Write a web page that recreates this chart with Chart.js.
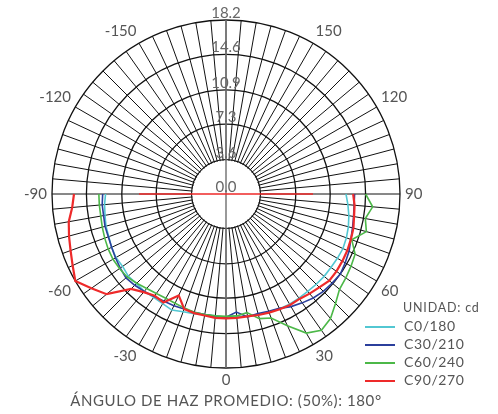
<!DOCTYPE html>
<html>
<head>
<meta charset="utf-8">
<script src="https://cdn.jsdelivr.net/npm/chart.js@4.4.1/dist/chart.umd.min.js"></script>
<style>
  html, body { margin: 0; padding: 0; background: #fff; }
  #wrap { position: relative; width: 498px; height: 414px; font-family: Lato, "Open Sans", sans-serif; color: #555; }
  #wrap canvas { position: absolute; left: 0; top: 0; }
  #unit { position: absolute; left: 403px; top: 300px; font-size: 12.5px; letter-spacing: 0.8px; }
  .item { position: absolute; left: 365px; height: 18px; font-size: 14px; line-height: 18px; letter-spacing: 0.6px; }
  .item span { display: inline-block; width: 30px; height: 2px; vertical-align: middle; margin-right: 9px; }
  #caption { position: absolute; left: 0; top: 391px; width: 452px; text-align: center; font-size: 15px; letter-spacing: 0.6px; }
</style>
</head>
<body>
<div id="wrap">
  <canvas id="polar" width="498" height="414"></canvas>
  <div id="unit">UNIDAD: cd</div>
  <div id="caption">ÁNGULO DE HAZ PROMEDIO: (50%): 180°</div>
</div>
<script>
// full circle of angles, top (180) going clockwise
const angles = [180, 175, 170, 165, 160, 155, 150, 145, 140, 135, 130, 125, 120, 115, 110, 105, 100, 95,
  90, 85, 80, 75, 70, 65, 60, 55, 50, 45, 40, 35, 30, 25, 20, 15, 10, 5,
  0, -5, -10, -15, -20, -25, -30, -35, -40, -45, -50, -55, -60, -65, -70, -75, -80, -85,
  -90, -95, -100, -105, -110, -115, -120, -125, -130, -135, -140, -145, -150, -155, -160, -165, -170, -175];

// measured angles, -90 .. 90
const measuredAngles = [-90, -85, -80, -75, -70, -65, -60, -55, -50, -45, -40, -35, -30, -25, -20, -15, -10, -5,
  0, 5, 10, 15, 20, 25, 30, 35, 40, 45, 50, 55, 60, 65, 70, 75, 80, 85, 90];

const c0 = [12.6, 12.75, 12.85, 13.0, 13.05, 13.2, 13.3, 13.2, 13.35, 13.25, 13.3, 13.2, 13.25, 13.4, 13.1, 12.95, 12.8, 12.8,
  12.9, 12.9, 12.95, 13.05, 13.15, 13.25, 13.3, 13.3, 13.3, 13.35, 13.4, 13.4, 13.45, 13.5, 13.4, 13.25, 13.05, 12.8, 12.55];
const c30 = [12.9, 13.0, 13.0, 13.1, 13.1, 13.2, 13.35, 13.5, 13.65, 13.5, 13.3, 13.1, 12.95, 12.9, 12.8, 12.8, 12.8, 12.85,
  12.9, 12.4, 13.05, 12.95, 13.05, 13.2, 13.6, 13.9, 14.2, 14.4, 14.5, 14.6, 14.4, 14.2, 13.9, 13.7, 13.55, 13.45, 13.45];
const c60 = [13.3, 13.3, 13.3, 13.4, 13.5, 13.6, 13.65, 13.6, 13.5, 13.2, 12.9, 12.7, 12.6, 12.6, 12.7, 12.8, 12.8, 12.8,
  12.8, 12.8, 12.6, 13.5, 13.8, 15.2, 16.8, 17.4, 17.0, 16.2, 15.5, 15.3, 15.1, 14.9, 14.0, 15.2, 14.8, 15.4, 14.6];
const c90 = [15.9, 16.15, 16.7, 17.0, 17.3, 17.7, 18.2, 17.2, 16.3, 14.05, 13.4, 13.0, 13.1, 11.7, 12.8, 12.9, 12.9, 13.0,
  13.0, 13.0, 13.0, 13.1, 13.2, 13.3, 13.4, 13.4, 13.6, 13.8, 14.1, 14.1, 14.05, 14.0, 13.9, 13.8, 13.6, 13.5, 13.3];
// red segment crossing the centre along 90 / -90
const c90Cross = { '90': 9.1, '-90': 9.1 };

const seriesNames = ['C0/180', 'C30/210', 'C60/240', 'C90/270'];
const seriesValues = [c0, c30, c60, c90];
const seriesColors = ['#52c7d2', '#2b3f9c', '#4cb848', '#ee2a2a'];
const seriesWidths = [1.6, 1.6, 1.6, 2.2];

const ringTicks = [0, 3.6, 7.3, 10.9, 14.6, 18.2];
const fontFamily = 'Lato, "Open Sans", sans-serif';

function toCircle(values) {
  return angles.map(a => {
    const i = measuredAngles.indexOf(a);
    return i === -1 ? null : values[i];
  });
}

const datasets = seriesValues.map((vals, k) => ({
  label: seriesNames[k],
  data: toCircle(vals),
  borderColor: seriesColors[k],
  borderWidth: seriesWidths[k],
  fill: false,
  pointRadius: 0,
  spanGaps: false,
  order: 4 - k
}));
datasets.push({
  label: 'C90/270 eje',
  data: angles.map(a => (c90Cross[a] !== undefined ? c90Cross[a] : null)),
  borderColor: seriesColors[3],
  borderWidth: 1.6,
  fill: false,
  pointRadius: 0,
  spanGaps: true
});

// hole in the middle, grey vertical axis, ring values
const polarDecor = {
  id: 'polarDecor',
  beforeDatasetsDraw(chart) {
    const s = chart.scales.r;
    const ctx = chart.ctx;
    const cx = s.xCenter, cy = s.yCenter, R = s.drawingArea;
    const hole = s.getDistanceFromCenterForValue(ringTicks[1]);
    ctx.save();
    ctx.fillStyle = '#fff';
    ctx.beginPath();
    ctx.arc(cx, cy, hole - 0.8, 0, Math.PI * 2);
    ctx.fill();
    ctx.strokeStyle = '#777';
    ctx.lineWidth = 1.5;
    ctx.beginPath();
    ctx.moveTo(cx, cy - R);
    ctx.lineTo(cx, cy + R);
    ctx.stroke();
    ctx.font = '15px ' + fontFamily;
    ctx.fillStyle = '#666';
    ctx.textAlign = 'center';
    ctx.textBaseline = 'alphabetic';
    ringTicks.forEach(v => {
      const r = s.getDistanceFromCenterForValue(v);
      ctx.fillText(v.toFixed(1), cx, cy - r - 2);
    });
    ctx.restore();
  }
};

new Chart(document.getElementById('polar'), {
  type: 'radar',
  data: { labels: angles, datasets: datasets },
  options: {
    responsive: false,
    animation: false,
    layout: { padding: { top: 0, bottom: 26, left: 0, right: 46 } },
    elements: { line: { tension: 0 } },
    plugins: { legend: { display: false }, tooltip: { enabled: false } },
    scales: {
      r: {
        min: 0,
        max: 18.2,
        startAngle: 0,
        afterBuildTicks: s => { s.ticks = ringTicks.map(v => ({ value: v })); },
        ticks: { display: false },
        grid: { circular: true, color: '#111', lineWidth: 1.3 },
        angleLines: { color: '#111', lineWidth: 1 },
        pointLabels: {
          callback: v => (v % 30 === 0 && v !== 180 ? String(v) : ''),
          font: { family: fontFamily, size: 15, lineHeight: 1 },
          color: '#555',
          padding: 5
        }
      }
    }
  },
  plugins: [polarDecor]
});

// legend
const wrap = document.getElementById('wrap');
seriesNames.forEach((name, k) => {
  const row = document.createElement('div');
  row.className = 'item';
  row.style.top = (317 + k * 18) + 'px';
  row.innerHTML = '<span style="background:' + seriesColors[k] + '"></span>' + name;
  wrap.appendChild(row);
});
</script>
</body>
</html>
